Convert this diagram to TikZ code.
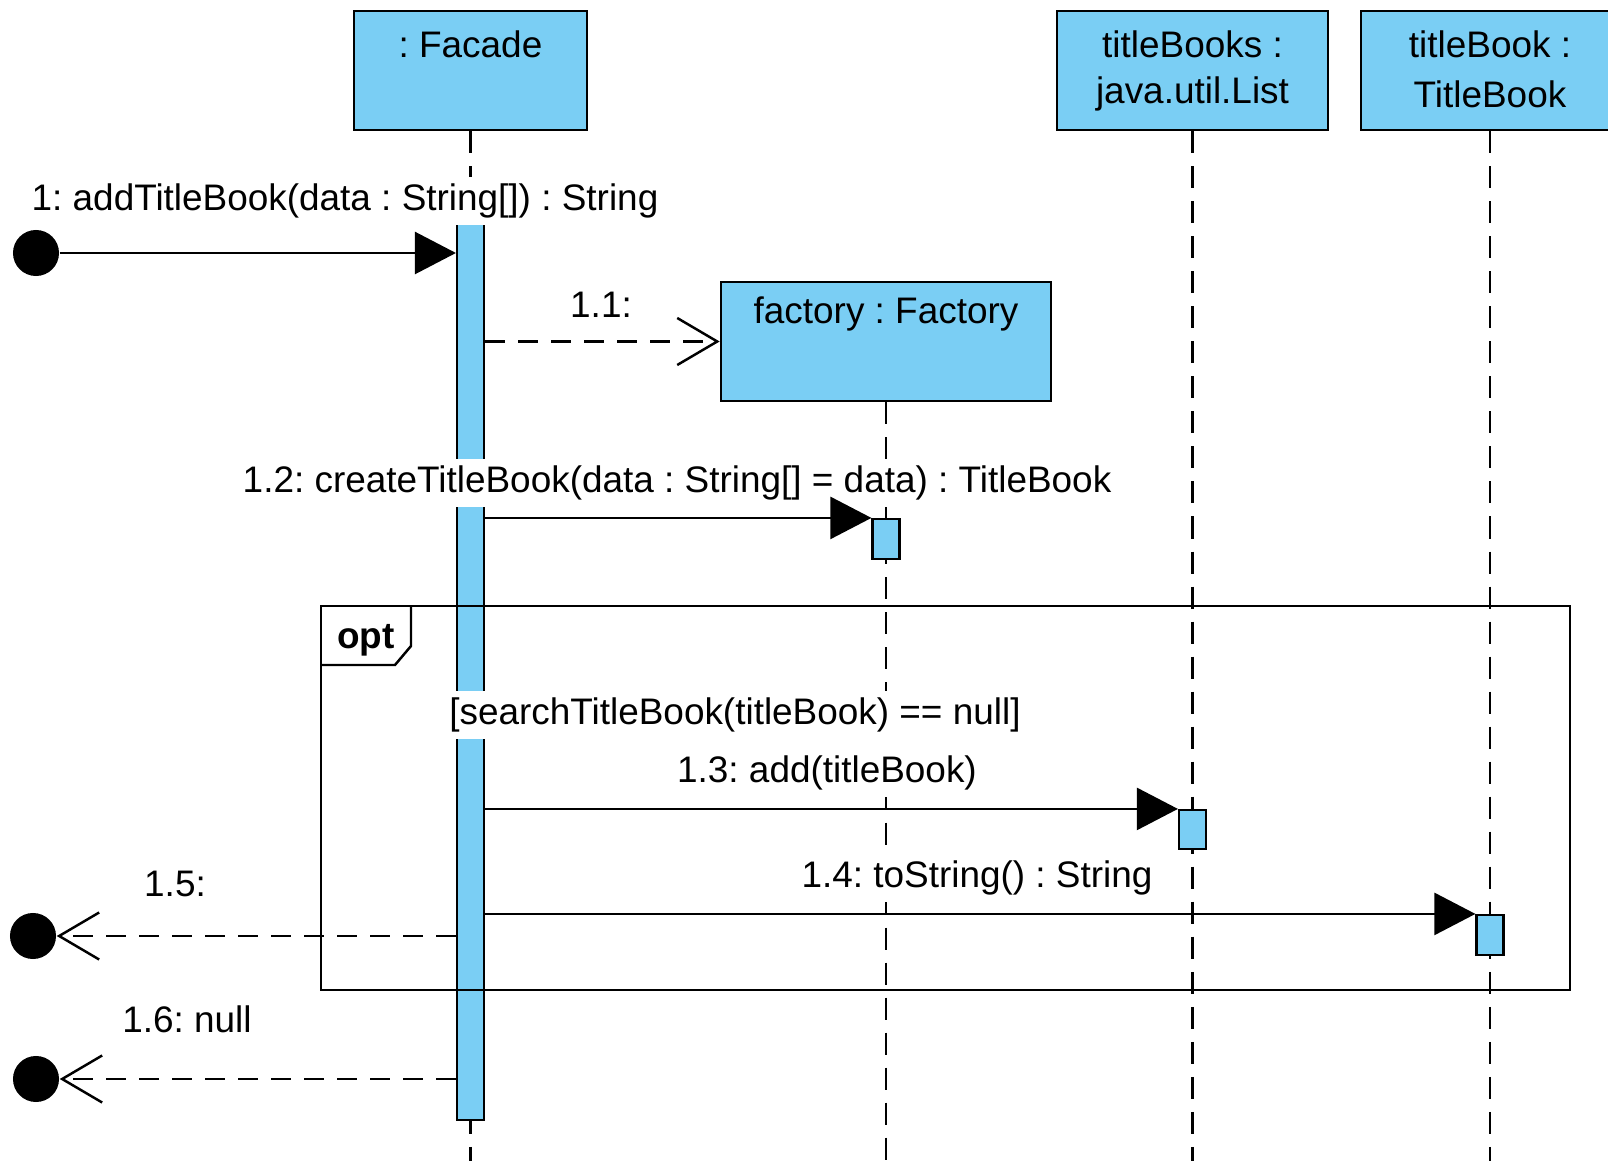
\documentclass[tikz,border=0pt]{standalone}
\usepackage{fontspec}
\setmainfont{Liberation Sans}
\usetikzlibrary{arrows.meta}
\usetikzlibrary{positioning}
\usetikzlibrary{calc}

\definecolor{lifeblue}{RGB}{122,206,244}
\frenchspacing

\tikzset{
  obj/.style={draw, fill=lifeblue, line width=0.7pt, inner sep=0pt, minimum height=1.19cm},
  actbar/.style={draw, fill=lifeblue, line width=0.6pt, inner sep=0pt, minimum width=0.27cm},
  lifeline/.style={line width=0.7pt, dash pattern=on 0.22cm off 0.13cm},
  txt/.style={fill=white, inner sep=2pt, text height=0.75em, text depth=0.2em},
  gate/.style={circle, fill=black, inner sep=0pt, minimum size=0.46cm},
  call/.style={line width=0.7pt, -{Triangle[length=0.41cm, width=0.42cm]}},
  reply/.style={line width=0.7pt, dash pattern=on 0.2cm off 0.13cm,
    -{Straight Barb[length=0.4cm, width=0.47cm]}},
}

\begin{document}
\begin{tikzpicture}[x=0.01cm, y=-0.01cm, font=\fontsize{10.5}{12.6}\selectfont]
  \useasboundingbox (0,0) rectangle (1608,1161);
  \coordinate (bottom) at (0,1161);

  % objects
  \node[obj, minimum width=2.33cm] (facade) at (470.5,70.5) {};
  \node[obj, minimum width=2.71cm] (books) at (1192.5,70.5) {};
  \node[obj, minimum width=2.58cm] (book) at (1490,70.5) {};
  \node[obj, minimum width=3.30cm] (factory) at (886,341.5) {};

  \node (facadename) at (470.5,44) {: Facade};
  \node (booksname) at (1192.5,44) {titleBooks :};
  \node (bookstype) at (1192.5,94) {java.util.List};
  \node (bookname) at (1490,44) {titleBook :};
  \node (booktype) at (1490,94) {TitleBook};
  \node (factoryname) at (886,314) {factory : Factory};

  % lifelines
  \draw[lifeline] (facade.south) -- (facade.south |- bottom);
  \draw[lifeline] (factory.south) -- (factory.south |- bottom);
  \draw[lifeline] (books.south) -- (books.south |- bottom);
  \draw[lifeline] (book.south) -- (book.south |- bottom);

  % activations
  \node[actbar, minimum height=9.0cm] (facadebar) at (470.5,670) {};
  \node[actbar, minimum height=0.40cm] (factorybar) at (886,539) {};
  \node[actbar, minimum height=0.39cm] (booksbar) at (1192.5,829.5) {};
  \node[actbar, minimum height=0.40cm] (bookbar) at (1490,935) {};

  % opt fragment
  \draw[line width=0.7pt] (321,606) rectangle (1570,990);
  \draw[line width=0.7pt] (321,665) -- (395,665) -- (411,646) -- (411,606);
  \node[font=\fontsize{10.5}{12.6}\selectfont\bfseries] (opttag) at (366,640) {opt};

  % message labels
  \node[txt] (m1) at (345,201) {1: addTitleBook(data : String[]) : String};
  \node[txt] (m11) at (601,308) {1.1:};
  \node[txt] (m12) at (677,483) {1.2: createTitleBook(data : String[] = data) : TitleBook};
  \node[txt] (guard) at (735,715) {[searchTitleBook(titleBook) == null]};
  \node[txt] (m13) at (827,773) {1.3: add(titleBook)};
  \node[txt] (m14) at (977,878) {1.4: toString() : String};
  \node[txt] (m15) at (175,887) {1.5:};
  \node[txt] (m16) at (187,1023) {1.6: null};

  % messages
  \node[gate] (g0) at (36,253) {};
  \node[gate] (g5) at (33,936) {};
  \node[gate] (g6) at (36,1079) {};

  \draw[call] (g0) -- (g0 -| facadebar.west);
  \draw[reply] (facadebar.east |- factory.west) -- (factory.west);
  \draw[call] (facadebar.east |- factorybar.north west) -- (factorybar.north west);
  \draw[call] (facadebar.east |- booksbar.north west) -- (booksbar.north west);
  \draw[call] (facadebar.east |- bookbar.north west) -- (bookbar.north west);
  \draw[reply] (facadebar.west |- g5) -- (g5);
  \draw[reply] (facadebar.west |- g6) -- (g6);
\end{tikzpicture}
\end{document}
